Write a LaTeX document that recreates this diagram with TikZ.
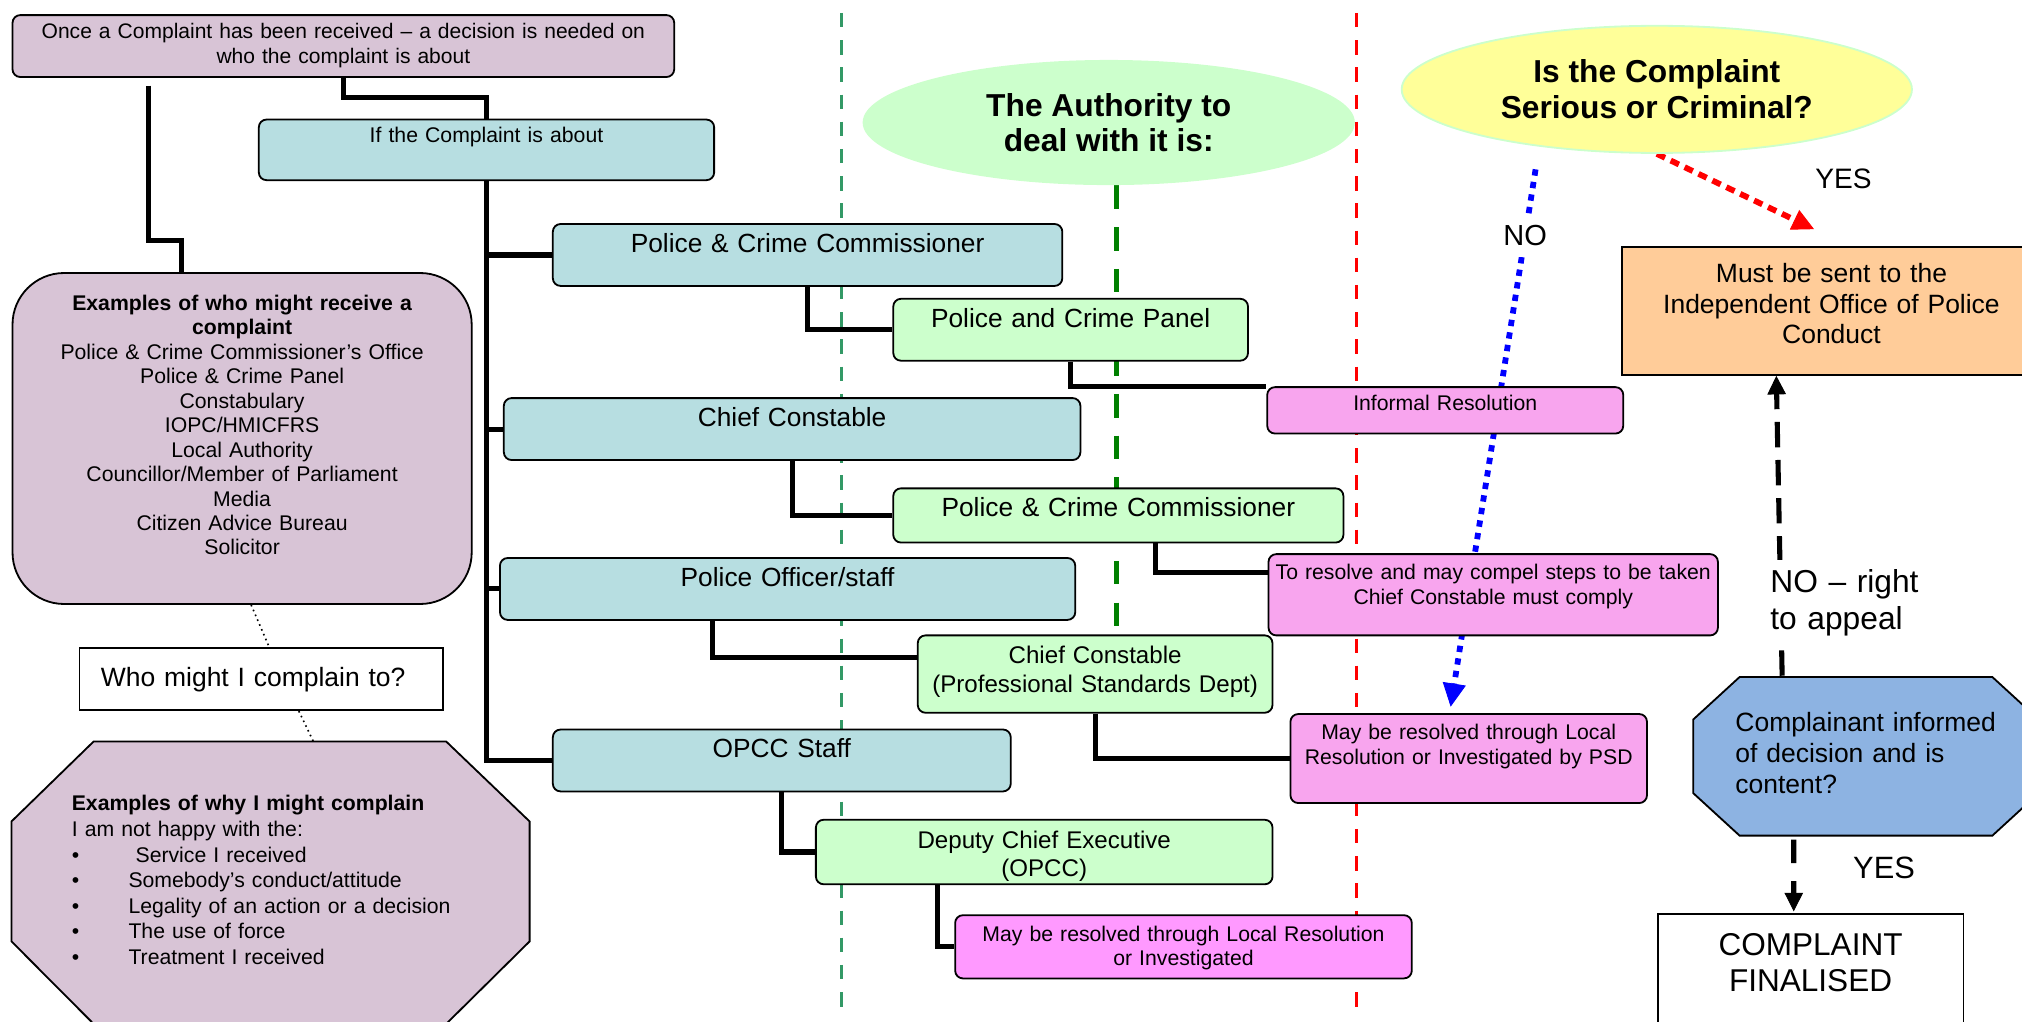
\documentclass[tikz,border=0pt]{standalone}
\usepackage{fontspec}
\setmainfont{Liberation Sans}
\usetikzlibrary{calc, arrows.meta, shapes.geometric}

\definecolor{mauve}{HTML}{D8C4D6}
\definecolor{paleblue}{HTML}{B7DEE1}
\definecolor{palegreen}{HTML}{CCFFCC}
\definecolor{pinkfill}{HTML}{F8A5EE}
\definecolor{hotpink}{HTML}{FF99FF}
\definecolor{peach}{HTML}{FFCC99}
\definecolor{octblue}{HTML}{8DB3E2}
\definecolor{paleyellow}{HTML}{FFFF99}
\definecolor{seagreen}{HTML}{339966}
\definecolor{darkgreen}{HTML}{008000}

\pgfdeclarelayer{background}
\pgfsetlayers{background,main}

\newcommand{\bulitem}{\makebox[1.1cm][l]{\textbullet}}

\tikzset{
    chartbox/.style={draw, line width=1pt, rounded corners=0.15cm, anchor=north west, inner sep=0pt, align=center},
    smalltext/.style={font=\fontsize{11.7}{13.5}\selectfont},
    midtext/.style={font=\fontsize{14.5}{15.6}\selectfont},
    widetext/.style={font=\fontsize{14.6}{17}\selectfont},
    bluebox/.style={chartbox, midtext, fill=paleblue, text height=0.55cm, text depth=0.65cm},
    greenbox/.style={chartbox, midtext, fill=palegreen, text height=0.55cm},
    pinkbox/.style={chartbox, smalltext, fill=pinkfill, text height=0.5cm},
    conn/.style={line width=2.8pt},
    colrule/.style={line width=1.6pt, dash pattern=on 8pt off 7pt},
    headtip/.style={-{Triangle[length=#1, width=#1, line width=0.5pt]}},
}

\begin{document}
\begin{tikzpicture}[x=0.025cm, y=-0.025cm]
    \pgfmathsetmacro{\colA}{652.8}
    \pgfmathsetmacro{\colB}{1052}
    \useasboundingbox (0,0) rectangle (1568,792);

    % left hand side
    \node[chartbox, fill=mauve, font=\fontsize{11.6}{14.2}\selectfont, text width=12.825cm, text height=0.445cm, text depth=0.755cm] (topbox) at (9,11)
        {Once a Complaint has been received – a decision is needed on\\ who the complaint is about};
    \node[chartbox, smalltext, fill=paleblue, text width=8.825cm, text height=0.445cm, text depth=0.73cm] (ifbox) at (200,92)
        {If the Complaint is about};
    \node[chartbox, smalltext, fill=mauve, rounded corners=1cm, text width=8.9cm, text height=0.72cm, text depth=5.695cm] (whobox) at (9,211)
        {\textbf{Examples of who might receive a}\\ \textbf{complaint}\\ Police \& Crime Commissioner’s Office\\ Police \& Crime Panel\\ Constabulary\\ IOPC/HMICFRS\\ Local Authority\\ Councillor/Member of Parliament\\ Media\\ Citizen Advice Bureau\\ Solicitor};
    \node[draw, line width=1pt, anchor=north west, inner xsep=0.4125cm, inner ysep=0pt, text width=6.215cm, align=left, widetext, text height=0.74cm, text depth=0.465cm] (askbox) at (61,501.8)
        {Who might I complain to?};

    \draw[line width=1pt, fill=mauve] (72.6,575) coordinate (whytop) -- (346,575) -- (410.7,637) -- (410.7,730) -- (346,794) -- (72.6,794) -- (8.9,730) -- (8.9,637) -- cycle;
    \node[anchor=base west, inner sep=0pt, text width=9cm, align=left, font=\fontsize{11.7}{14.1}\selectfont] (whytext) at (55.4,628.8)
        {\textbf{Examples of why I might complain}\\ I am not happy with the:\\ \bulitem\ Service I received\\ \bulitem Somebody’s conduct/attitude\\ \bulitem Legality of an action or a decision\\ \bulitem The use of force\\ \bulitem Treatment I received};

    % who the complaint is about
    \node[bluebox, text width=9.875cm] (pccA) at (428,173) {Police \& Crime Commissioner};
    \node[bluebox, text width=11.175cm] (ccA) at (390,308) {Chief Constable};
    \node[bluebox, text width=11.15cm] (officer) at (387,432) {Police Officer/staff};
    \node[bluebox, text width=8.875cm] (opccstaff) at (428,565) {OPCC Staff};

    % who deals with it
    \node[ellipse, fill=palegreen, minimum width=9.54cm, minimum height=2.425cm, inner sep=0pt, align=center, font=\bfseries\fontsize{17.5}{19.5}\selectfont] (authority) at (859.8,95)
        {The Authority to\\ deal with it is:};
    \node[greenbox, text width=6.875cm, text depth=0.65cm] (panel) at (692,231) {Police and Crime Panel};
    \node[greenbox, text width=8.725cm, text depth=0.5cm] (pccB) at (692,378) {Police \& Crime Commissioner};
    \node[greenbox, font=\fontsize{13.3}{15.6}\selectfont, text width=6.875cm, text depth=0.95cm] (psd) at (711,492) {Chief Constable\\ (Professional Standards Dept)};
    \node[greenbox, font=\fontsize{13.3}{15.6}\selectfont, text width=8.85cm, text depth=0.7cm] (dce) at (632,635) {Deputy Chief Executive\\ (OPCC)};

    % outcomes
    \node[pinkbox, text width=6.9cm, text height=0.46cm, text depth=0.44cm] (infres) at (982,299.5) {Informal Resolution};
    \node[pinkbox, text width=8.71cm, text depth=1.075cm] (resolve) at (983,429) {To resolve and may compel steps to be taken\\ Chief Constable must comply};
    \node[pinkbox, text width=6.91cm, text depth=1.225cm] (psdres) at (1000,553) {May be resolved through Local\\ Resolution or Investigated by PSD};
    \node[pinkbox, fill=hotpink, text width=8.85cm, text depth=0.725cm] (opccres) at (740,709) {May be resolved through Local Resolution\\ or Investigated};

    % serious or criminal
    \node[ellipse, draw=palegreen, line width=1pt, fill=paleyellow, minimum width=9.89cm, minimum height=2.465cm, inner sep=0pt, align=center, font=\bfseries\fontsize{17.5}{19.9}\selectfont] (serious) at (1284.8,69.3)
        {Is the Complaint\\ Serious or Criminal?};
    \node[draw, line width=1pt, anchor=north west, inner sep=0pt, fill=peach, text width=8.125cm, align=center, widetext, text height=0.68cm, text depth=1.795cm] (iopc) at (1257,191)
        {Must be sent to the\\ Independent Office of Police\\ Conduct};
    \draw[line width=1pt, fill=octblue] (1349,525) coordinate (octNW) -- (1545,525) -- (1581,558) -- (1581,615) -- (1545,648) -- (1349,648) coordinate (octSW) -- (1313,615) -- (1313,558) -- cycle;
    \node[anchor=base west, inner sep=0pt, text width=5.3cm, align=left, widetext] (content) at (1345.5,567.6)
        {Complainant informed\\ of decision and is\\ content?};
    \node[draw, line width=1pt, anchor=north west, inner sep=0pt, fill=white, text width=5.93cm, align=center, font=\fontsize{17.4}{19.8}\selectfont, text height=0.815cm, text depth=1.485cm] (finalbox) at (1284.7,708)
        {COMPLAINT\\ FINALISED};

    \node[font=\fontsize{15.5}{18}\selectfont] (yesA) at (1429.6,139) {YES};
    \node[font=\fontsize{17}{20}\selectfont] (yesB) at (1461,673) {YES};
    \node[anchor=base west, fill=white, inner xsep=0pt, inner ysep=5pt, text width=3.3cm, align=left, font=\fontsize{17.5}{20.4}\selectfont] (appeal) at (1372.6,459.4)
        {NO – right\\ to appeal};

    \begin{pgfonlayer}{background}
        \draw[colrule, seagreen] (\colA,10) -- (\colA,782);
        \draw[colrule, red] (\colB,10) -- (\colB,782);
        \draw[darkgreen, line width=3pt, dash pattern=on 13pt off 10pt] ($(authority.south)+(6,0)$) -- ++(0,343.5);

        \draw[blue, line width=3.2pt, dash pattern=on 3.5pt off 3.5pt, headtip=0.45cm] ($(serious.south)+(-94,12)$) -- ($(psdres.north)+(-14,-5)$)
            node[pos=0.123, fill=white, text=black, inner sep=6pt, font=\fontsize{16}{18}\selectfont] (nolab) {NO};
        \draw[red, line width=3.2pt, dash pattern=on 5pt off 3.5pt, headtip=0.42cm] (serious.south) -- ($(iopc.north)+(-13.5,-13.3)$);
        \draw[line width=2.8pt, dash pattern=on 14pt off 7pt, headtip=0.36cm] ($(octNW)+(33,-1)$) -- ($(iopc.south west)!0.369!(iopc.south east)$);
        \draw[line width=2.8pt, dash pattern=on 13pt off 10pt, headtip=0.36cm] ($(octSW)+(42,3)$) -- ($(finalbox.north west)+(106.3,-1.3)$);

        \draw[conn] (topbox.south) -- ++(0,15.5) -| (ifbox.north);
        \draw[conn] ($(topbox.south west)+(106,6)$) -- ++(0,120) -| ($(whobox.north)+(-47,0)$);
        \foreach \n in {pccA, ccA, officer, opccstaff}
            \draw[conn] (ifbox.south) |- (\n.west);
        \draw[conn] (pccA.south) |- (panel.west);
        \draw[conn] (ccA.south) |- (pccB.west);
        \draw[conn] (panel.south) |- (infres.north west);
        \draw[conn] ($(pccB.south)+(28.5,0)$) |- ($(resolve.north west)+(0,15)$);
        \draw[conn] ($(officer.south)+(-58,0)$) |- ($(psd.north west)+(0,18)$);
        \draw[conn] (psd.south) |- (psdres.west);
        \draw[conn] (opccstaff.south) |- (dce.west);
        \draw[conn] ($(dce.south)+(-83,0)$) |- (opccres.west);

        \draw[dotted, line width=0.9pt] ($(whobox.south)+(7,0)$) -- ($(askbox.north)+(6.2,0)$);
        \draw[dotted, line width=0.9pt] ($(askbox.south)+(29.2,0)$) -- ($(whytop)+(170.4,0)$);
    \end{pgfonlayer}
\end{tikzpicture}
\end{document}
